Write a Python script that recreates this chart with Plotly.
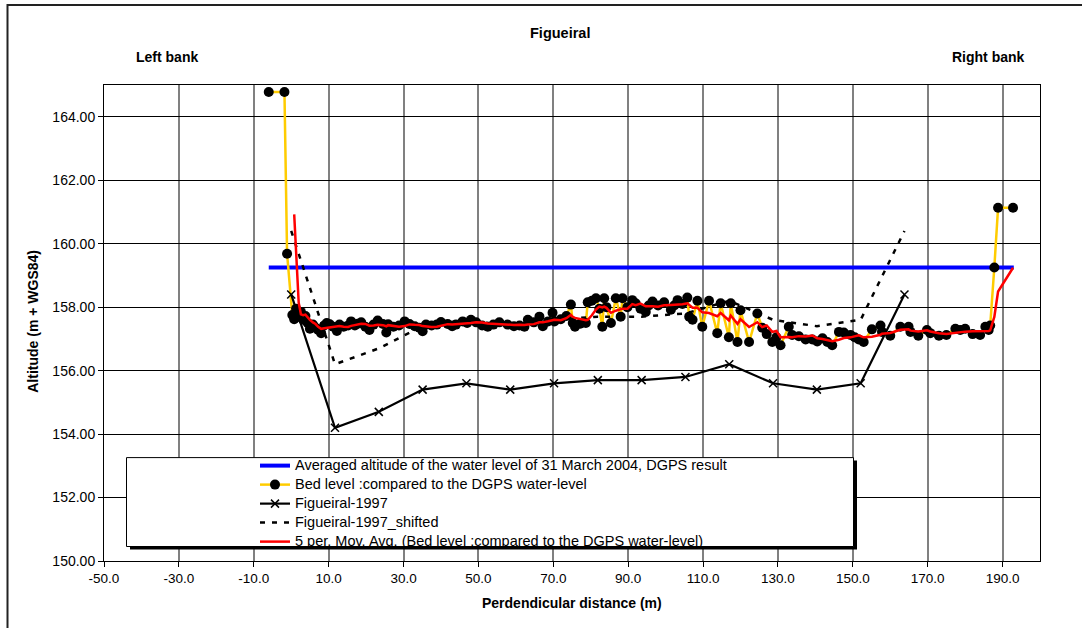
import plotly.graph_objects as go
import pandas as pd

# Averaged water level (DGPS, 31 March 2004)
water_x = [-6.0, 193.0]
water_y = [159.25, 159.25]

# Bed level measurements compared to the DGPS water level
bed_x = [
    -6.0, -1.8, -1.1, 0.3, 0.8, 1.3, 2.0, 2.6, 3.2, 3.8, 4.4, 5.0, 5.8, 6.5, 7.2, 8.0,
    8.8, 9.5, 10.3, 11.2, 12.2, 12.9, 14.0, 15.2, 16.0, 17.0, 17.8, 18.7, 19.8, 20.9,
    22.0, 23.1, 24.5, 25.4, 25.9, 27.3, 28.8, 30.3, 31.6, 33.0, 34.2, 35.1, 36.0, 37.5,
    38.9, 40.0, 41.8, 43.0, 44.0, 45.8, 47.0, 48.0, 49.4, 51.0, 52.5, 54.0, 55.6, 57.8,
    59.5, 61.0, 62.3, 63.2, 64.8, 66.3, 67.2, 68.6, 69.8, 70.3, 72.0, 73.5, 74.7, 75.2,
    75.8, 77.2, 78.7, 79.2, 80.3, 81.4, 82.3, 83.1, 83.6, 84.2, 85.4, 86.7, 88.0, 88.5,
    89.8, 91.1, 92.0, 93.3, 94.7, 95.5, 96.5, 98.0, 99.6, 101.4, 102.3, 103.2, 104.5,
    105.8, 106.3, 107.2, 108.5, 109.8, 111.6, 113.8, 114.7, 116.9, 117.4, 119.2, 120.0,
    122.3, 124.5, 125.8, 127.0, 128.5, 129.6, 130.7, 132.9, 133.8, 135.6, 137.4, 139.2,
    140.5, 141.9, 143.2, 144.5, 146.3, 147.6, 149.4, 150.5, 151.6, 152.9, 155.1, 157.4,
    157.8, 160.0, 162.7, 164.9, 165.4, 167.5, 169.8, 170.7, 173.0, 175.0, 177.4, 178.7,
    180.0, 182.0, 184.0, 185.4, 186.3, 186.7, 187.8, 188.8, 192.8,
]
bed_y = [
    164.78, 164.78, 159.68, 157.75, 157.62, 157.95, 157.70, 157.85, 157.60, 157.72, 157.50,
    157.32, 157.45, 157.35, 157.28, 157.18, 157.42, 157.50, 157.46, 157.38, 157.25, 157.45,
    157.38, 157.42, 157.55, 157.42, 157.48, 157.52, 157.38, 157.28, 157.45, 157.58, 157.47,
    157.20, 157.46, 157.38, 157.42, 157.55, 157.47, 157.40, 157.35, 157.24, 157.45, 157.42,
    157.45, 157.53, 157.47, 157.40, 157.45, 157.55, 157.50, 157.60, 157.52, 157.42, 157.38,
    157.45, 157.52, 157.45, 157.40, 157.42, 157.38, 157.60, 157.52, 157.70, 157.40, 157.55,
    157.82, 157.55, 157.62, 157.72, 158.08, 157.50, 157.38, 157.48, 157.50, 158.15, 158.20,
    158.28, 157.95, 157.38, 158.28, 158.00, 157.50, 158.28, 157.70, 158.28, 158.00, 158.22,
    158.12, 157.95, 157.85, 158.05, 158.18, 158.05, 158.15, 157.92, 158.05, 158.22, 158.10,
    158.30, 157.70, 157.60, 158.20, 157.38, 158.20, 157.18, 158.12, 157.05, 158.12, 156.90,
    157.90, 156.90, 157.80, 157.35, 157.15, 156.90, 157.05, 156.80, 157.38, 157.12, 157.08,
    156.98, 156.98, 156.92, 157.02, 156.90, 156.80, 157.22, 157.20, 157.12, 157.05, 156.98,
    156.90, 157.30, 157.42, 157.22, 157.10, 157.38, 157.38, 157.22, 157.10, 157.28, 157.18,
    157.10, 157.12, 157.32, 157.28, 157.32, 157.15, 157.12, 157.38, 157.28, 157.42, 159.25,
    161.13, 161.13,
]

# Figueiral 1997 survey and the same profile shifted
fig97_x = [0.0, 11.7, 23.4, 35.1, 46.8, 58.5, 70.2, 81.9, 93.6, 105.3, 117.0, 128.7, 140.4, 152.1, 163.8]
fig97_y = [158.4, 154.2, 154.7, 155.4, 155.6, 155.4, 155.6, 155.7, 155.7, 155.8, 156.2, 155.6, 155.4, 155.6, 158.4]
fig97s_y = [160.4, 156.2, 156.7, 157.4, 157.6, 157.4, 157.6, 157.7, 157.7, 157.8, 158.2, 157.6, 157.4, 157.6, 160.4]

x_ticks = [-50, -30, -10, 10, 30, 50, 70, 90, 110, 130, 150, 170, 190]
x_labels = ["-50.0", "-30.0", "-10.0", "10.0", "30.0", "50.0", "70.0", "90.0",
            "110.0", "130.0", "150.0", "170.0", "190.0"]
y_ticks = [150, 152, 154, 156, 158, 160, 162, 164]
y_labels = ["150.00", "152.00", "154.00", "156.00", "158.00", "160.00", "162.00", "164.00"]

# 5-period moving average of the bed level
ma = pd.Series(bed_y).rolling(5).mean()
ma_x = [x for x, v in zip(bed_x, ma) if pd.notna(v)]
ma_y = [v for v in ma if pd.notna(v)]

FONT = "Arial, Liberation Sans, sans-serif"


def legend_label(text):
    # legend rows stay tight while the text itself is drawn a little larger
    return '<span style="font-size:14.5px">' + text + "</span>"


fig = go.Figure()
fig.add_trace(go.Scatter(
    x=water_x, y=water_y, mode="lines",
    line=dict(color="#0000FF", width=4),
    name=legend_label("Averaged altitude of the water level of 31 March 2004, DGPS result"),
))
fig.add_trace(go.Scatter(
    x=bed_x, y=bed_y, mode="lines+markers",
    line=dict(color="#FFCC00", width=2.5),
    marker=dict(color="black", size=10),
    name=legend_label("Bed level :compared to the DGPS water-level"),
))
fig.add_trace(go.Scatter(
    x=fig97_x, y=fig97_y, mode="lines+markers",
    line=dict(color="black", width=2.2),
    marker=dict(symbol="x-thin", size=8, line=dict(color="black", width=1.5)),
    name=legend_label("Figueiral-1997"),
))
fig.add_trace(go.Scatter(
    x=fig97_x, y=fig97s_y, mode="lines",
    line=dict(color="black", width=2.5, dash="5px,7px"),
    name=legend_label("Figueiral-1997_shifted"),
))
fig.add_trace(go.Scatter(
    x=ma_x, y=ma_y, mode="lines",
    line=dict(color="#FF0000", width=2.5),
    name=legend_label("5 per. Mov. Avg. (Bed level :compared to the DGPS water-level)"),
))

# plot area in pixels: x 104..1040, y 85..561.5
L, R, T, B = 104, 1040, 85, 561.5
W, H = R - L, B - T


def px(xp):
    return (xp - L) / W


def py(yp):
    return (B - yp) / H


shapes = [
    # outer chart frame
    dict(type="rect", xref="paper", yref="paper", x0=px(7.5), x1=px(1100), y0=py(640), y1=py(5),
         line=dict(color="#222222", width=2), fillcolor="rgba(0,0,0,0)", layer="below"),
    # legend shadow and box
    dict(type="rect", xref="paper", yref="paper", x0=px(130), x1=px(857), y0=py(550), y1=py(461),
         line=dict(width=0), fillcolor="black", layer="above"),
    dict(type="rect", xref="paper", yref="paper", x0=px(126.5), x1=px(853.5), y0=py(547), y1=py(458),
         line=dict(color="black", width=1), fillcolor="white", layer="above"),
]


def label(text, x, y, size, angle=0):
    return dict(text=text, x=px(x), y=py(y), xref="paper", yref="paper",
                xanchor="center", yanchor="middle", showarrow=False, textangle=angle,
                font=dict(size=size, family=FONT, color="black"))


annotations = [
    label("<b>Figueiral</b>", 560, 33, 14.5),
    label("<b>Left bank</b>", 167, 57, 14),
    label("<b>Right bank</b>", 988, 57, 14),
    label("<b>Perdendicular distance (m)</b>", 572, 604, 14),
    label("<b>Altitude (m + WGS84)</b>", 33, 322, 14, angle=-90),
]

fig.update_layout(
    width=1082, height=628,
    margin=dict(l=L, r=1082 - R, t=T, b=628 - B),
    paper_bgcolor="white", plot_bgcolor="white",
    font=dict(family=FONT, color="black"),
    showlegend=True,
    legend=dict(
        x=px(255), y=py(451.5), xanchor="left", yanchor="top",
        bgcolor="rgba(0,0,0,0)", borderwidth=0,
        font=dict(size=11.5, family=FONT, color="black"),
        tracegroupgap=0,
    ),
    shapes=shapes,
    annotations=annotations,
)
fig.update_xaxes(
    range=[-50, 200], tickvals=x_ticks, ticktext=x_labels,
    showgrid=True, gridcolor="#808080", gridwidth=1.5,
    showline=True, linecolor="black", linewidth=1, mirror=True,
    ticks="outside", ticklen=5, tickcolor="black",
    tickfont=dict(size=13.5, family=FONT, color="black"),
    zeroline=False,
)
fig.update_yaxes(
    range=[150, 165], tickvals=y_ticks, ticktext=y_labels,
    showgrid=True, gridcolor="black", gridwidth=1,
    showline=True, linecolor="black", linewidth=1, mirror=True,
    ticks="outside", ticklen=5, tickcolor="black",
    tickfont=dict(size=14, family=FONT, color="black"),
    zeroline=False,
)

fig.write_html("out.html")
